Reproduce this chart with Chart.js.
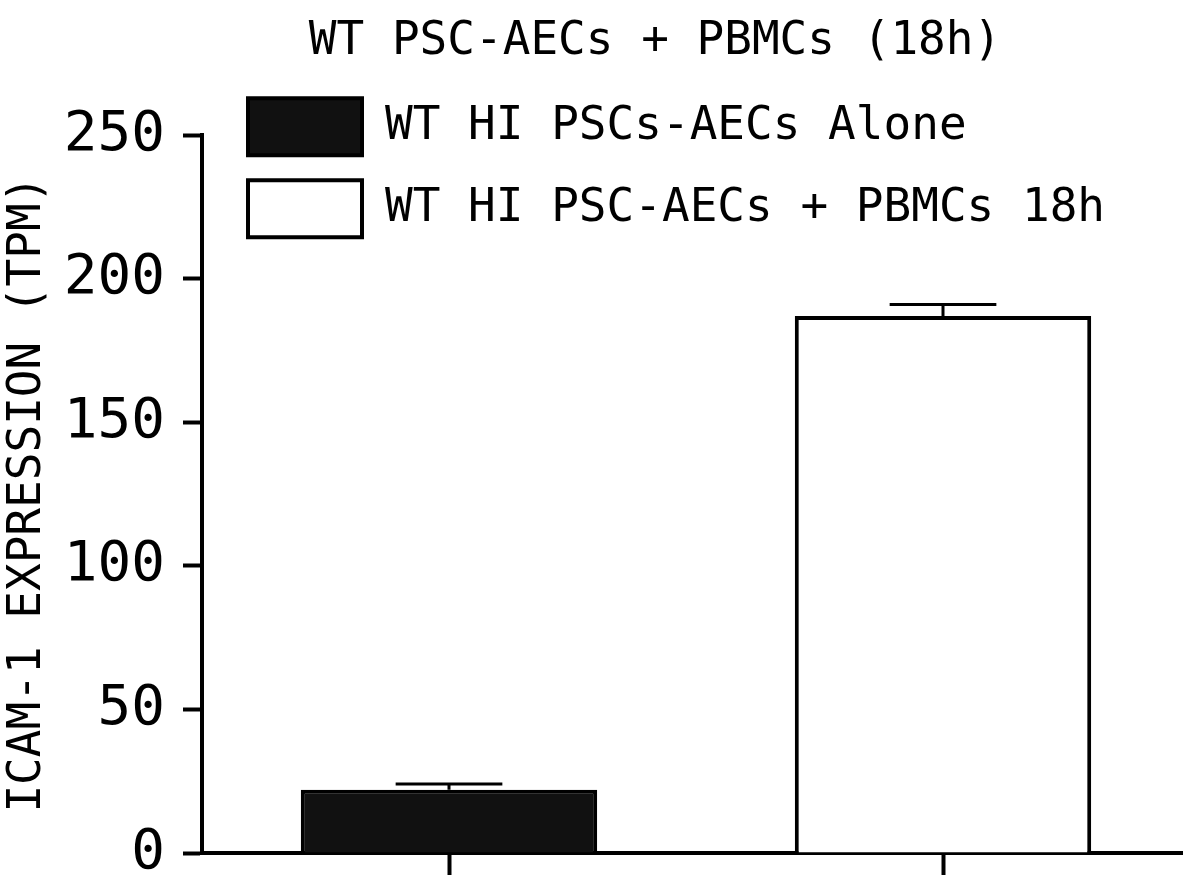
<!DOCTYPE html>
<html>
<head>
<meta charset="utf-8">
<title>ICAM-1 expression</title>
<script src="https://cdn.jsdelivr.net/npm/chart.js@4/dist/chart.umd.min.js"></script>
<style>
  html, body { margin: 0; padding: 0; background: #fff; overflow: hidden; }
  #wrap { position: relative; width: 1190px; height: 875px; }
</style>
</head>
<body>
<div id="wrap"><canvas id="icamChart"></canvas></div>
<script>
// ---- data ----
const groups = ["WT HI PSCs-AECs Alone", "WT HI PSC-AECs + PBMCs 18h"];
const tpmMean = [22, 187];
const tpmSem = [2, 4];
const yTicks = [0, 50, 100, 150, 200, 250];
const fills = ["#111111", "#ffffff"];

const FONT = "'DejaVu Sans Mono', monospace";

// one dataset per group so each gets its own legend entry
const datasets = groups.map((name, i) => ({
  label: name,
  data: groups.map((_, j) => (j === i ? tpmMean[i] : null)),
  err: groups.map((_, j) => (j === i ? tpmSem[i] : null)),
  backgroundColor: fills[i],
  borderColor: "#000",
  borderWidth: 4,
  grouped: false,
  barPercentage: 0.6,
  categoryPercentage: 1.0,
}));

// SEM whiskers (upper only)
const errorBars = {
  id: "errorBars",
  afterDatasetsDraw(chart) {
    const ctx = chart.ctx;
    const y = chart.scales.y;
    ctx.save();
    ctx.strokeStyle = "#000";
    ctx.lineWidth = 3;
    chart.data.datasets.forEach((ds, i) => {
      const meta = chart.getDatasetMeta(i);
      meta.data.forEach((bar, j) => {
        const v = ds.data[j];
        if (v == null) return;
        const top = y.getPixelForValue(v + ds.err[j]);
        const half = bar.width * 0.18;
        ctx.beginPath();
        ctx.moveTo(bar.x, bar.y);
        ctx.lineTo(bar.x, top);
        ctx.moveTo(bar.x - half, top);
        ctx.lineTo(bar.x + half, top);
        ctx.stroke();
      });
    });
    ctx.restore();
  }
};

// title nudged right, legend sits over the plot's upper-left corner
const boxShift = {
  id: "boxShift",
  afterLayout(chart) {
    const t = chart.titleBlock;
    if (t) { t.left += 60; t.right += 60; }
    const lg = chart.legend;
    if (lg) {
      lg.left += 223;
      lg.right += 223;
      lg.bottom = lg.top + 190;
    }
  }
};

new Chart(document.getElementById("icamChart"), {
  type: "bar",
  data: { labels: groups, datasets },
  plugins: [errorBars, boxShift],
  options: {
    responsive: true,
    maintainAspectRatio: false,
    animation: false,
    layout: { padding: 0 },
    plugins: {
      title: {
        display: true,
        text: "WT PSC-AECs + PBMCs (18h)",
        color: "#000",
        font: { family: FONT, size: 46, weight: "normal", lineHeight: 1.2 },
        padding: { top: 14, bottom: 4 },
      },
      legend: {
        position: "top",
        align: "start",
        maxHeight: 62,
        labels: {
          color: "#000",
          font: { family: FONT, size: 46 },
          boxWidth: 114,
          boxHeight: 57,
          padding: 25,
        },
      },
      tooltip: { enabled: false },
    },
    scales: {
      x: {
        offset: true,
        grid: {
          display: true,
          offset: false,
          drawOnChartArea: false,
          tickLength: 22,
          tickWidth: 4,
          tickColor: "#000",
        },
        border: { display: true, color: "#000", width: 4 },
        ticks: { display: false },
        afterFit(scale) { scale.height = 22; },
      },
      y: {
        min: 0,
        max: 250,
        afterBuildTicks(scale) { scale.ticks = yTicks.map(v => ({ value: v })); },
        grid: {
          drawOnChartArea: false,
          tickLength: 19,
          tickWidth: 4,
          tickColor: "#000",
        },
        border: { display: true, color: "#000", width: 4 },
        ticks: {
          color: "#000",
          padding: 18,
          font: { family: FONT, size: 56, lineHeight: 0.1 },
        },
        title: {
          display: true,
          text: "ICAM-1 EXPRESSION (TPM)",
          color: "#000",
          font: { family: FONT, size: 46, lineHeight: 1.2 },
          padding: 0,
        },
        afterFit(scale) { scale.width = 202; },
      },
    },
  },
});
</script>
</body>
</html>
